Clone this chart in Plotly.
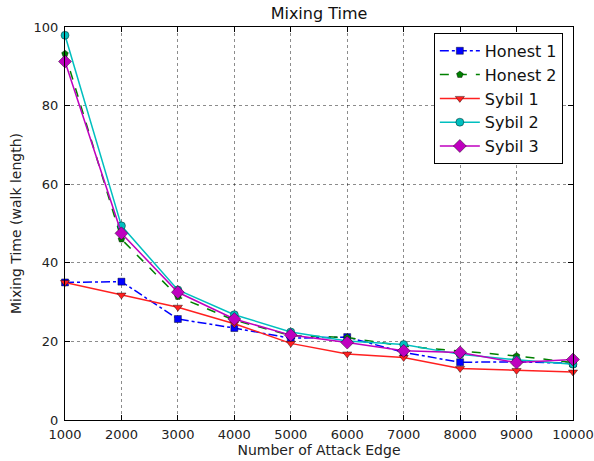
import plotly.graph_objects as go

attack_edges = [1000, 2000, 3000, 4000, 5000, 6000, 7000, 8000, 9000, 10000]
x_tick_labels = ["1000", "2000", "3000", "4000", "5000", "6000", "7000", "8000", "9000", "10000"]
y_ticks = [0, 20, 40, 60, 80, 100]
honest1 = [35.0, 35.2, 25.7, 23.4, 20.8, 21.1, 17.2, 14.7, 14.8, 14.4]
honest2 = [93.2, 46.0, 31.4, 25.4, 21.5, 21.0, 18.8, 17.5, 16.3, 14.6]
sybil1 = [35.0, 31.8, 28.7, 24.5, 19.5, 16.8, 15.9, 13.1, 12.6, 12.2]
sybil2 = [97.9, 49.4, 33.1, 26.8, 22.4, 20.1, 19.2, 16.7, 15.3, 14.2]
sybil3 = [91.2, 47.5, 32.5, 25.7, 21.6, 19.7, 17.6, 17.2, 14.6, 15.4]

series = [
    ("Honest 1", honest1, "#0000ff", "dashdot", "square", 7),
    ("Honest 2", honest2, "#008000", "dash", "pentagon", 7),
    ("Sybil 1", sybil1, "#ff2020", "solid", "triangle-down", 8),
    ("Sybil 2", sybil2, "#00bfbf", "solid", "circle", 8),
    ("Sybil 3", sybil3, "#bf00bf", "solid", "diamond", 10),
]

fig = go.Figure()
for name, vals, color, dash, sym, size in series:
    fig.add_trace(go.Scatter(
        x=attack_edges, y=vals, name=name, mode="lines+markers",
        line=dict(color=color, width=1.5, dash=dash),
        marker=dict(symbol=sym, size=size, color=color,
                    line=dict(color="rgba(0,0,0,0.6)", width=0.7)),
        cliponaxis=False,
    ))

font = "DejaVu Sans, Arial, sans-serif"
axis_common = dict(
    showline=True, linecolor="black", linewidth=1.2, mirror="ticks",
    ticks="inside", ticklen=5, tickcolor="black",
    showgrid=True, gridcolor="rgba(0,0,0,0.45)", griddash="dot", gridwidth=1,
    zeroline=False, tickfont=dict(family=font, size=13, color="#222"),
    automargin=False,
)

fig.update_layout(
    width=594, height=461,
    margin=dict(l=65, r=21, t=27, b=41),
    paper_bgcolor="white", plot_bgcolor="white",
    title=dict(text="Mixing Time", x=0.537, xanchor="center", y=0.97, yanchor="middle",
               font=dict(family=font, size=16, color="#111")),
    xaxis=dict(range=[1000, 10000], tickvals=attack_edges, ticktext=x_tick_labels,
               ticklabelstandoff=2,
               title=dict(text="Number of Attack Edge", standoff=2,
                          font=dict(family=font, size=14, color="#222")),
               **axis_common),
    yaxis=dict(range=[0, 100], tickvals=y_ticks,
               ticklabelstandoff=3,
               title=dict(text="Mixing Time (walk length)", standoff=8,
                          font=dict(family=font, size=14, color="#222")),
               **axis_common),
    legend=dict(x=0.98, xanchor="right", y=0.985, yanchor="top",
                bgcolor="white", bordercolor="black", borderwidth=1,
                font=dict(family=font, size=16, color="#111"),
                itemwidth=40, tracegroupgap=0),
    showlegend=True,
)

fig.write_html("out.html")
